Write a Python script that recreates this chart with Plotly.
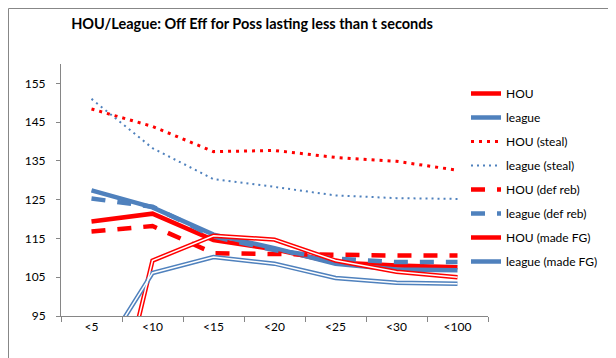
import plotly.graph_objects as go

categories = ["<5", "<10", "<15", "<20", "<25", "<30", "<100"]

hou = [119.4, 121.4, 114.6, 112.2, 108.8, 108.0, 107.6]
league = [127.4, 123.0, 116.0, 112.5, 108.5, 107.0, 106.8]
hou_steal = [148.4, 143.9, 137.4, 137.7, 135.9, 134.9, 132.6]
league_steal = [151.0, 138.3, 130.3, 128.3, 126.1, 125.4, 125.2]
hou_defreb = [116.8, 118.2, 111.2, 111.0, 110.6, 110.6, 110.6]
league_defreb = [125.3, 123.2, 115.5, 112.0, 109.8, 108.9, 108.9]
hou_madefg = [44.0, 109.3, 115.7, 114.7, 109.3, 106.4, 105.0]
league_madefg = [81.0, 106.1, 110.2, 108.5, 104.8, 103.6, 103.3]

y_ticks = [95, 105, 115, 125, 135, 145, 155]

RED = "#FF0000"
BLUE = "#4F81BD"
FONT = "Lato"

fig = go.Figure()

series = [
    ("HOU", hou, RED, 4.5, "solid"),
    ("league", league, BLUE, 4.5, "solid"),
    ("HOU (steal)", hou_steal, RED, 3, "3px,5px"),
    ("league (steal)", league_steal, BLUE, 2, "2px,4px"),
    ("HOU (def reb)", hou_defreb, RED, 4.5, "14px,12px"),
    ("league (def reb)", league_defreb, BLUE, 4.5, "14px,12px"),
    ("HOU (made FG)", hou_madefg, RED, 4.5, "solid"),
    ("league (made FG)", league_madefg, BLUE, 4.5, "solid"),
]

for i, (name, vals, col, w, dash) in enumerate(series):
    fig.add_trace(go.Scatter(
        x=categories, y=vals, name=name, mode="lines",
        line=dict(color=col, width=w, dash=dash),
        legendgroup=f"g{i}",
    ))

# inner white line of the double-line (compound) series
for i, vals in [(6, hou_madefg), (7, league_madefg)]:
    fig.add_trace(go.Scatter(
        x=categories, y=vals, mode="lines", showlegend=False,
        line=dict(color="white", width=1.5), legendgroup=f"g{i}",
        hoverinfo="skip",
    ))

L, R, T, B = 53, 136, 56, 50
W, H = 616, 358
pw, ph = W - L - R, H - T - B

fig.update_layout(
    width=W, height=H,
    margin=dict(l=L, r=R, t=T, b=B, pad=0),
    paper_bgcolor="white", plot_bgcolor="white",
    font=dict(family=FONT, size=12, color="black"),
    title=dict(
        text="<b>HOU/League: Off Eff for Poss lasting less than t seconds</b>",
        x=244 / W, xref="container", xanchor="center",
        y=1 - 16 / H, yref="container", yanchor="middle",
        font=dict(family=FONT, size=14.5, color="black"),
    ),
    showlegend=True,
    legend=dict(
        x=(458 - L) / pw, xanchor="left",
        y=(H - B - 71) / ph, yanchor="top",
        tracegroupgap=5,
        font=dict(family=FONT, size=12),
        bgcolor="rgba(0,0,0,0)",
    ),
    shapes=[dict(
        type="rect", xref="paper", yref="paper", layer="below",
        x0=(0.5 - L) / pw, x1=(W - 0.5 - L) / pw,
        y0=-(B - 0.5) / ph, y1=1 + (T - 0.5) / ph,
        line=dict(color="#878787", width=1),
    )],
)

fig.update_xaxes(
    type="category", range=[-0.5, 6.5],
    showline=True, linecolor="#868686", linewidth=1,
    ticks="outside", tickson="boundaries", ticklen=5, tickcolor="#868686",
    showgrid=False, zeroline=False,
    tickfont=dict(family=FONT, size=12),
)
fig.update_yaxes(
    range=[95, 160], tickvals=y_ticks,
    showline=True, linecolor="#868686", linewidth=1,
    ticks="outside", ticklen=4, tickcolor="#868686",
    showgrid=False, zeroline=False,
    tickfont=dict(family=FONT, size=12),
    ticklabelstandoff=8,
)

fig.write_html("out.html")
